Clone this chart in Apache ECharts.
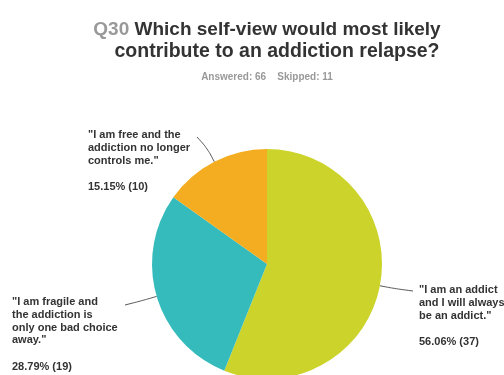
<!DOCTYPE html>
<html>
<head>
<meta charset="utf-8">
<script src="https://cdn.jsdelivr.net/npm/echarts@6/dist/echarts.min.js"></script>
<style>
  html, body { margin: 0; padding: 0; background: #fff; }
  #chart { width: 504px; height: 375px; }
</style>
</head>
<body>
<div id="chart"></div>
<script>
// Survey question Q30 — answer options, their shares and respondent counts
const answers = [
  '"I am an addict\nand I will always\nbe an addict."',
  '"I am fragile and\nthe addiction is\nonly one bad choice\naway."',
  '"I am free and the\naddiction no longer\ncontrols me."'
];
const percents = [56.06, 28.79, 15.15];
const counts = [37, 19, 10];
const sliceColors = ['#ccd42b', '#36bbbd', '#f4ad20'];

// Where each label block sits (top-left corner of its text),
// and where its leader line ends, relative to that corner
const labelSpots = [
  { x: 419, y: 284, lineEnd: [-6, 7] },
  { x: 12, y: 296, lineEnd: [113, 9] },
  { x: 88, y: 129, lineEnd: [109, 8] }
];

const CENTER = [267, 264];
const RADIUS = 115;

const chart = echarts.init(document.getElementById('chart'));
const font = '"Liberation Sans", Arial, Helvetica, sans-serif';

// mid-angle of each slice (clockwise from 12 o'clock), used for the leader lines
const total = percents.reduce((a, b) => a + b, 0);
const midAngles = [];
let acc = 0;
percents.forEach(v => {
  midAngles.push((acc + v / 2) / total * Math.PI * 2);
  acc += v;
});

chart.setOption({
  animation: false,
  title: [
    {
      text: '{g|Q30} Which self-view would most likely',
      left: 262, top: 15, textAlign: 'center',
      textStyle: {
        fontFamily: font, fontSize: 19, fontWeight: 'bold', color: '#333',
        rich: { g: { fontFamily: font, fontSize: 19, fontWeight: 'bold', color: '#999' } }
      }
    },
    {
      text: 'contribute to an addiction relapse?',
      left: 272, top: 37, textAlign: 'center',
      textStyle: { fontFamily: font, fontSize: 19.5, fontWeight: 'bold', color: '#333' }
    },
    {
      text: 'Answered: 66    Skipped: 11',
      left: 262, top: 67, textAlign: 'center',
      textStyle: { fontFamily: font, fontSize: 10, fontWeight: 'bold', color: '#999' }
    }
  ],
  series: [{
    type: 'pie',
    center: CENTER,
    radius: RADIUS,
    startAngle: 90,
    clockwise: true,
    silent: true,
    data: answers.map((name, i) => ({
      name: name,
      value: percents[i],
      count: counts[i],
      itemStyle: { color: sliceColors[i] }
    })),
    label: {
      show: true,
      position: 'outside',
      overflow: 'none',
      width: 140,
      formatter: p => '{q|' + p.name + '}\n{s| }\n{p|' + p.value.toFixed(2) + '% (' + p.data.count + ')}',
      rich: {
        q: { fontFamily: font, fontSize: 11, fontWeight: 'bold', color: '#333', lineHeight: 12.7 },
        s: { fontSize: 8, lineHeight: 14 },
        p: { fontFamily: font, fontSize: 11, fontWeight: 'bold', color: '#333', lineHeight: 12.7 }
      }
    },
    labelLine: {
      show: true,
      length: 10,
      length2: 8,
      smooth: 0.35,
      lineStyle: { color: '#444', width: 0.9 }
    },
    labelLayout: params => {
      const i = params.dataIndex;
      const spot = labelSpots[i];
      const dx = Math.sin(midAngles[i]);
      const dy = -Math.cos(midAngles[i]);
      const start = [CENTER[0] + dx * RADIUS, CENTER[1] + dy * RADIUS];
      const bend = [start[0] + dx * 15, start[1] + dy * 15];
      const end = [spot.x + spot.lineEnd[0], spot.y + spot.lineEnd[1]];
      return {
        x: spot.x, y: spot.y, align: 'left', verticalAlign: 'top',
        labelLinePoints: [start, bend, end]
      };
    }
  }]
});
</script>
</body>
</html>
